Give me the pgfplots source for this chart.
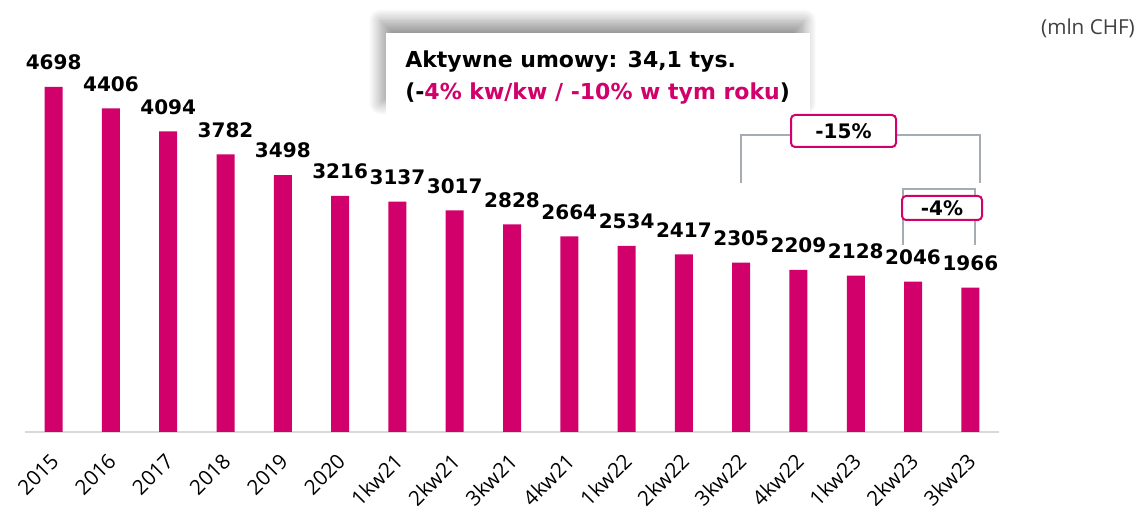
\documentclass[border=0pt]{standalone}
\usepackage{pgfplots}
\pgfplotsset{compat=1.18}
\usepackage{fontspec}
\setmainfont{Open Sans}
\newfontfamily\dv{DejaVu Sans}
\usetikzlibrary{shadows.blur}
\definecolor{mag}{HTML}{D1006A}
\definecolor{axgray}{HTML}{D9D9D9}
\definecolor{brgray}{HTML}{A6ACB4}
\definecolor{txgray}{HTML}{404040}
\begin{document}
\begin{tikzpicture}[x=0.75pt,y=0.75pt]
\path[use as bounding box] (0,0) rectangle (1146,509);
\begin{axis}[
  at={(18.75pt,57.75pt)}, anchor=south west,
  scale only axis, width=730.5pt, height=317.25pt,
  xmin=-0.5, xmax=16.5, ymin=0, ymax=5760,
  clip=false,
  axis line style={draw=none},
  ytick=\empty,
  major tick length=0pt,
  xtick pos=bottom, xticklabel pos=lower,
  xtick={0,...,16},
  xticklabels={2015,2016,2017,2018,2019,2020,1kw21,2kw21,3kw21,4kw21,1kw22,2kw22,3kw22,4kw22,1kw23,2kw23,3kw23},
  x tick label style={xshift=1pt, yshift=-19pt, rotate=45, anchor=east, inner sep=0pt, font=\fontsize{15.5}{19}\selectfont, text=black},
  /pgf/number format/1000 sep={},
  /pgf/number format/assume math mode=true,
  ybar, bar width=13.5pt,
  nodes near coords,
  every node near coord/.append style={anchor=south, inner sep=0pt, yshift=12.5pt, font=\dv\bfseries\fontsize{15}{18}\selectfont, text=black},
]
\draw[axgray, line width=1.5pt] (axis cs:-0.5,0) -- (axis cs:16.5,0);
\addplot[fill=mag, draw=none] coordinates {
(0,4698) (1,4406) (2,4094) (3,3782) (4,3498) (5,3216) (6,3137) (7,3017) (8,2828)
(9,2664) (10,2534) (11,2417) (12,2305) (13,2209) (14,2128) (15,2046) (16,1966)};
\end{axis}
% unit label
\node[text=txgray, font=\fontsize{15.5}{18}\selectfont] at (1088,481) {(mln CHF)};
% text box with shadow
\fill[white, blur shadow={shadow xshift=-4pt, shadow yshift=9pt, shadow blur radius=9pt, shadow blur steps=12, shadow opacity=40}] (386,394) rectangle (810,476);
\node[anchor=base west, inner sep=0pt, font=\dv\bfseries\fontsize{16.5}{20}\selectfont] at (405,441) {Aktywne umowy: 34,1 tys.};
\node[anchor=base west, inner sep=0pt, font=\dv\bfseries\fontsize{16.5}{20}\selectfont] at (405,409) {(-\textcolor{mag}{4\% kw/kw / -10\% w tym roku})};
% brackets
\draw[brgray, line width=1.2pt] (741,326) -- (741,374) -- (980,374) -- (980,326);
\draw[brgray, line width=1.2pt] (903,264) -- (903,320) -- (975,320) -- (975,264);
\draw[mag, fill=white, line width=1.5pt, rounded corners=3pt] (791,362) rectangle (896,394);
\node[font=\dv\bfseries\fontsize{15}{18}\selectfont] at (843.5,378) {-15\%};
\draw[mag, fill=white, line width=1.5pt, rounded corners=3pt] (902,289) rectangle (982,313);
\node[font=\dv\bfseries\fontsize{15}{18}\selectfont] at (942,301) {-4\%};
\end{tikzpicture}
\end{document}
